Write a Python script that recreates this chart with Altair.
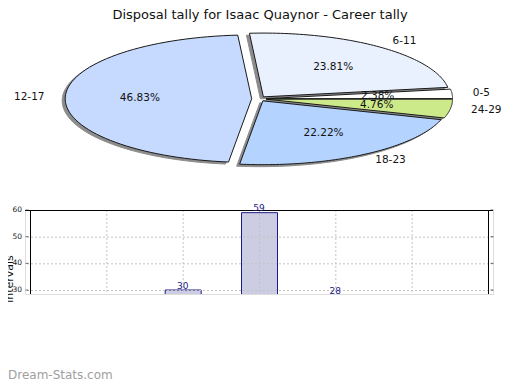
import altair as alt
import pandas as pd

# ---------------- data ----------------
TITLE = "Disposal tally for Isaac Quaynor - Career tally"
CATEGORIES = ["0-5", "6-11", "12-17", "18-23", "24-29"]
COUNTS = [3, 30, 59, 28, 6]
SLICE_COLORS = ["#FFFFFF", "#E9F0FE", "#C6D9FE", "#B4D3FE", "#CDEA8B"]
BAR_POSITIONS = [1, 2, 3, 4, 5]
X_GRID = [1, 2, 3, 4, 5]
Y_TICKS = [30, 40, 50, 60]
Y_TITLE = "intervals"
WATERMARK = "Dream-Stats.com"

# ---------------- layout (pixels) ----------------
W, H = 504, 374            # drawable page area
PL, PT = 17, 202           # bar panel origin inside the page area
PW, PH = 468, 84           # bar panel size (visible part)
PR = W - PL - PW
PB = H - PT - PH
X_DOMAIN = [0, 6]
Y_DOMAIN = [28.5, 60]

# pie geometry (page-area pixel units)
CX, CY = 250.9, 90.8
RA, RB = 186.5, 63.8
EXPLODE = 7.2
N = 72
FONT = "DejaVu Sans"

pie_df = pd.DataFrame({"cat": CATEGORIES, "count": COUNTS, "k": list(range(len(CATEGORIES)))})
bar_df = pd.DataFrame({"cat": CATEGORIES, "pos": BAR_POSITIONS, "count": COUNTS})

px_scale = alt.Scale(domain=[0, W], range=[-PL, W - PL], nice=False, zero=False)
py_scale = alt.Scale(domain=[0, H], range=[-PT, H - PT], nice=False, zero=False)

pie_base = (
    alt.Chart(pie_df)
    .transform_joinaggregate(total="sum(count)")
    .transform_window(cum="sum(count)", sort=[alt.SortField("k")], frame=[None, 0])
    .transform_calculate(a0="2*PI*(datum.cum - datum.count)/datum.total")
    .transform_calculate(a1="2*PI*datum.cum/datum.total")
    .transform_calculate(mid="(datum.a0 + datum.a1)/2")
    .transform_calculate(ox=f"{CX} + {EXPLODE}*cos(datum.mid)")
    .transform_calculate(oy=f"{CY} - {EXPLODE * RB / RA}*sin(datum.mid)")
)

poly = (
    pie_base.transform_calculate(pts=f"sequence(0, {N + 3})")
    .transform_flatten(["pts"])
    .transform_calculate(ang=f"datum.a0 + (datum.a1 - datum.a0) * (datum.pts - 1) / {N}")
    .transform_calculate(edge=f"datum.pts >= 1 && datum.pts <= {N + 1}")
    .transform_calculate(px=f"datum.edge ? datum.ox + {RA}*cos(datum.ang) : datum.ox")
    .transform_calculate(py=f"datum.edge ? datum.oy - {RB}*sin(datum.ang) : datum.oy")
)

shadow = (
    poly.transform_calculate(sx="datum.px - 3", sy="datum.py + 2")
    .mark_line(fill="#8c8c8c", stroke="#8c8c8c", strokeWidth=1, strokeJoin="round")
    .encode(
        x=alt.X("sx:Q", scale=px_scale, axis=None),
        y=alt.Y("sy:Q", scale=py_scale, axis=None),
        order="pts:Q",
        detail="cat:N",
    )
)

slices = poly.mark_line(stroke="#1a1a1a", strokeWidth=1, strokeJoin="round").encode(
    x=alt.X("px:Q", scale=px_scale, axis=None),
    y=alt.Y("py:Q", scale=py_scale, axis=None),
    order="pts:Q",
    detail="cat:N",
    fill=alt.Fill("cat:N", scale=alt.Scale(domain=CATEGORIES, range=SLICE_COLORS), legend=None),
)

pct = (
    pie_base.transform_calculate(lx=f"datum.ox + {0.6 * RA}*cos(datum.mid)")
    .transform_calculate(ly=f"datum.oy - {0.6 * RB}*sin(datum.mid)")
    .transform_calculate(label="format(datum.count/datum.total, '.2%')")
    .mark_text(font=FONT, fontSize=10.5, color="#111111", baseline="middle", align="center")
    .encode(
        x=alt.X("lx:Q", scale=px_scale, axis=None),
        y=alt.Y("ly:Q", scale=py_scale, axis=None),
        text="label:N",
    )
)

cat_base = pie_base.transform_calculate(
    cx_=f"{CX} + {1.15 * RA}*cos(datum.mid)"
).transform_calculate(cy_=f"{CY} - {1.15 * RB}*sin(datum.mid)")

cat_right = (
    cat_base.transform_filter("cos(datum.mid) >= 0")
    .mark_text(font=FONT, fontSize=10.5, color="#111111", baseline="middle", align="left")
    .encode(
        x=alt.X("cx_:Q", scale=px_scale, axis=None),
        y=alt.Y("cy_:Q", scale=py_scale, axis=None),
        text="cat:N",
    )
)
cat_left = (
    cat_base.transform_filter("cos(datum.mid) < 0")
    .mark_text(font=FONT, fontSize=10.5, color="#111111", baseline="middle", align="right")
    .encode(
        x=alt.X("cx_:Q", scale=px_scale, axis=None),
        y=alt.Y("cy_:Q", scale=py_scale, axis=None),
        text="cat:N",
    )
)

pie_group = alt.layer(shadow, slices, pct, cat_right, cat_left)

# ---------------- bar panel ----------------
bx = alt.Scale(domain=X_DOMAIN, nice=False, zero=False)
by = alt.Scale(domain=Y_DOMAIN, nice=False, zero=False)

bars = alt.Chart(bar_df).mark_bar(
    size=36, fill="#CCCCE3", stroke="#1c1c86", strokeWidth=1, clip=True, xOffset=0.5
).encode(
    x=alt.X("pos:Q", scale=bx, axis=None),
    y=alt.Y("count:Q", scale=by, axis=None),
)

vgrid = alt.Chart(pd.DataFrame({"g": X_GRID})).mark_rule(
    color="#c4c4c4", strokeDash=[2, 2], strokeWidth=1, xOffset=0.5
).encode(x=alt.X("g:Q", scale=bx, axis=None))

hgrid = alt.Chart(pd.DataFrame({"g": Y_TICKS[:-1]})).mark_rule(
    color="#c4c4c4", strokeDash=[2, 2], strokeWidth=1, yOffset=0.5
).encode(y=alt.Y("g:Q", scale=by, axis=None))

frame_top = alt.Chart(pd.DataFrame({"g": [Y_DOMAIN[1]]})).mark_rule(
    color="#000000", strokeWidth=1, yOffset=0.5
).encode(y=alt.Y("g:Q", scale=by, axis=None))

frame_lr = alt.Chart(pd.DataFrame({"g": X_DOMAIN})).mark_rule(
    color="#000000", strokeWidth=1, xOffset=0.5
).encode(x=alt.X("g:Q", scale=bx, axis=None))

# y tick labels (left axis)
ytick_labels = alt.Chart(pd.DataFrame({"v": Y_TICKS})).mark_text(
    font=FONT, fontSize=7.5, color="#222222", align="right", baseline="middle"
).encode(
    y=alt.Y("v:Q", scale=by, axis=None),
    x=alt.value(-3),
    text="v:Q",
)

# small inward tick marks on both sides
ytick_marks_l = alt.Chart(pd.DataFrame({"v": Y_TICKS})).mark_tick(
    color="#333333", thickness=1, size=3, orient="horizontal"
).encode(y=alt.Y("v:Q", scale=by, axis=None), x=alt.value(2))
ytick_marks_r = alt.Chart(pd.DataFrame({"v": Y_TICKS})).mark_tick(
    color="#333333", thickness=1, size=3, orient="horizontal"
).encode(y=alt.Y("v:Q", scale=by, axis=None), x=alt.value(PW - 1))

y_title = alt.Chart(pd.DataFrame({"t": [Y_TITLE]})).mark_text(
    font=FONT, fontSize=11, color="#111111", angle=270, align="center", baseline="alphabetic"
).encode(text="t:N", x=alt.value(-12), y=alt.value(69))

vals = (
    alt.Chart(bar_df)
    .transform_filter(f"datum.count >= {Y_DOMAIN[0] - 1}")
    .mark_text(font=FONT, fontSize=9, color="#1c1c86", baseline="alphabetic", dy=-1.5)
    .encode(
        x=alt.X("pos:Q", scale=bx, axis=None),
        y=alt.Y("count:Q", scale=by, axis=None),
        text="count:Q",
    )
)

bar_group = alt.layer(
    bars, vgrid, hgrid, frame_top, frame_lr, ytick_marks_l, ytick_marks_r, ytick_labels, vals
)

title_mark = alt.Chart(pd.DataFrame({"t": [TITLE]})).mark_text(
    font=FONT, fontSize=13, color="#111111", align="center", baseline="alphabetic"
).encode(text="t:N", x=alt.value(PW / 2 + 1), y=alt.value(19 - 8 - PT))

wm_mark = alt.Chart(pd.DataFrame({"t": [WATERMARK]})).mark_text(
    font=FONT, fontSize=12, color="#a0a0a0", align="left", baseline="alphabetic"
).encode(text="t:N", x=alt.value(-PL), y=alt.value(379 - 8 - PT))

chart = (
    alt.layer(pie_group, bar_group, y_title, title_mark, wm_mark)
    .resolve_scale(x="independent", y="independent")
    .properties(
        width=PW,
        height=PH,
        autosize=alt.AutoSizeParams(type="none"),
        padding={"left": PL, "top": PT, "right": PR, "bottom": PB},
    )
    .configure_view(stroke=None)
    .configure(font=FONT)
)

chart.save("out.html", embed_options={"renderer": "svg", "actions": False})
